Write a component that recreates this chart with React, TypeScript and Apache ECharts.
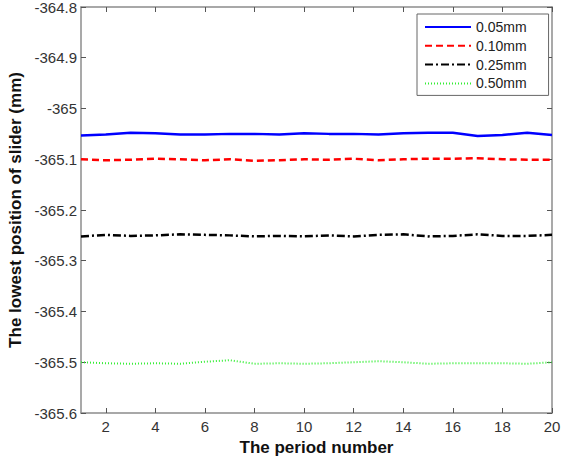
import React, { useEffect, useRef } from "react";
import * as echarts from "echarts";

// Period numbers and lowest slider positions (mm) for each clearance
const periods = [1, 2, 3, 4, 5, 6, 7, 8, 9, 10, 11, 12, 13, 14, 15, 16, 17, 18, 19, 20];
const seriesNames = ["0.05mm", "0.10mm", "0.25mm", "0.50mm"];
const clearance005 = [
  -365.053, -365.051, -365.048, -365.049, -365.051, -365.051, -365.05, -365.05, -365.051, -365.049,
  -365.05, -365.05, -365.051, -365.049, -365.048, -365.048, -365.054, -365.052, -365.048, -365.052,
];
const clearance010 = [
  -365.1, -365.102, -365.101, -365.099, -365.1, -365.102, -365.1, -365.103, -365.102, -365.1,
  -365.101, -365.099, -365.102, -365.1, -365.099, -365.099, -365.098, -365.1, -365.101, -365.101,
];
const clearance025 = [
  -365.252, -365.249, -365.251, -365.25, -365.248, -365.249, -365.25, -365.252, -365.251, -365.252,
  -365.25, -365.252, -365.249, -365.248, -365.252, -365.251, -365.248, -365.251, -365.251, -365.249,
];
const clearance050 = [
  -365.5, -365.502, -365.503, -365.502, -365.503, -365.499, -365.496, -365.503, -365.502, -365.503,
  -365.502, -365.5, -365.498, -365.5, -365.503, -365.502, -365.502, -365.502, -365.503, -365.5,
];
const xTicks = [2, 4, 6, 8, 10, 12, 14, 16, 18, 20];

const font = "Liberation Sans, Arial, sans-serif";
const axisGray = "#8c8c8c";

export default function App() {
  const ref = useRef<HTMLDivElement>(null);

  useEffect(() => {
    if (!ref.current) return;
    document.body.style.margin = "0";
    document.body.style.overflow = "hidden";
    const chart = echarts.init(ref.current, null, { renderer: "svg", width: 563, height: 456 });

    const pairs = (ys: number[]) => periods.map((p, i) => [p, ys[i]]);

    const baseX = {
      type: "value" as const,
      min: 1,
      max: 20,
      splitLine: { show: false },
      axisLine: { show: true, onZero: false, lineStyle: { color: axisGray, width: 1.5 } },
      axisTick: {
        show: true,
        inside: true,
        length: 5,
        customValues: xTicks,
        lineStyle: { color: "#555", width: 1 },
      },
    };
    const baseY = {
      type: "value" as const,
      min: -365.6,
      max: -364.8,
      interval: 0.1,
      splitLine: { show: false },
      axisLine: { show: true, onZero: false, lineStyle: { color: axisGray, width: 1.5 } },
      axisTick: { show: true, inside: true, length: 5, lineStyle: { color: "#555", width: 1 } },
    };

    chart.setOption({
      animation: false,
      backgroundColor: "#ffffff",
      grid: {
        left: 81,
        right: 11,
        top: 7,
        bottom: 43,
        containLabel: false,
        outerBoundsMode: "none",
      },
      legend: {
        orient: "vertical",
        left: 417,
        top: 14,
        data: seriesNames,
        itemWidth: 46,
        itemHeight: 14,
        itemGap: 4.8,
        padding: [6, 22, 5, 7],
        backgroundColor: "#ffffff",
        borderColor: "#666",
        borderWidth: 1,
        borderRadius: 0,
        itemStyle: { opacity: 0, borderWidth: 0 },
        textStyle: { fontFamily: font, fontSize: 14, color: "#222" },
      },
      xAxis: [
        {
          ...baseX,
          position: "bottom",
          name: "The period number",
          nameLocation: "middle",
          nameGap: 26,
          nameTextStyle: { fontFamily: font, fontSize: 17, fontWeight: "bold", color: "#111" },
          axisLabel: {
            show: true,
            customValues: xTicks,
            margin: 6,
            fontFamily: font,
            fontSize: 15,
            color: "#333",
          },
        },
        {
          ...baseX,
          position: "top",
          axisLabel: { show: false },
        },
      ],
      yAxis: [
        {
          ...baseY,
          position: "left",
          name: "The lowest position of slider (mm)",
          nameLocation: "middle",
          nameGap: 57,
          nameTextStyle: { fontFamily: font, fontSize: 17, fontWeight: "bold", color: "#111" },
          axisLabel: {
            show: true,
            margin: 4,
            padding: [4, 0, 0, 0],
            fontFamily: font,
            fontSize: 15,
            color: "#333",
          },
        },
        {
          ...baseY,
          position: "right",
          axisLabel: { show: false },
        },
      ],
      series: [
        {
          name: seriesNames[0],
          type: "line",
          data: pairs(clearance005),
          symbol: "none",
          color: "#0000ff",
          lineStyle: { color: "#0000ff", width: 2.5, type: "solid" },
        },
        {
          name: seriesNames[1],
          type: "line",
          data: pairs(clearance010),
          symbol: "none",
          color: "#ff0000",
          lineStyle: { color: "#ff0000", width: 2.5, type: [7, 4] },
        },
        {
          name: seriesNames[2],
          type: "line",
          data: pairs(clearance025),
          symbol: "none",
          color: "#000000",
          lineStyle: { color: "#000000", width: 2.5, type: [8, 3, 2, 3] },
        },
        {
          name: seriesNames[3],
          type: "line",
          data: pairs(clearance050),
          symbol: "none",
          color: "#33ee33",
          lineStyle: { color: "#33ee33", width: 2, type: [1, 2] },
        },
      ],
    });

    return () => chart.dispose();
  }, []);

  return (
    <div
      ref={ref}
      style={{ position: "absolute", left: 0, top: 0, width: 563, height: 456 }}
    />
  );
}
